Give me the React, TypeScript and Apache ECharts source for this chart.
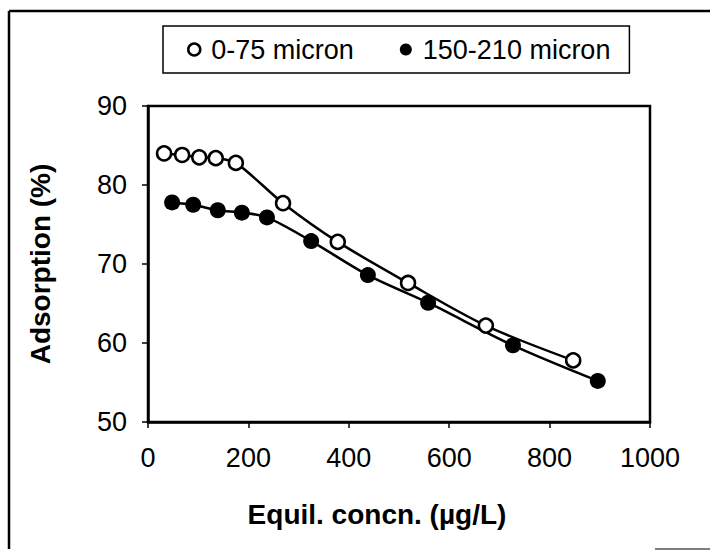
import { useEffect, useRef } from 'react';
import * as echarts from 'echarts';

// 吸附率 vs 平衡浓度 数据
const seriesNames = ['0-75 micron', '150-210 micron'];
const fineX = [32, 68, 102, 135, 175, 269, 378, 518, 673, 847];
const fineY = [84.0, 83.8, 83.5, 83.4, 82.8, 77.7, 72.8, 67.6, 62.2, 57.8];
const coarseX = [48, 90, 139, 187, 237, 325, 438, 558, 727, 896];
const coarseY = [77.8, 77.5, 76.8, 76.5, 75.9, 72.9, 68.6, 65.1, 59.7, 55.2];
const xTicks = [0, 1000, 200];
const yTicks = [50, 90, 10];

const FONT = 'Liberation Sans, Arial, sans-serif';

function App() {
  const chartRef = useRef<HTMLDivElement>(null);

  useEffect(() => {
    if (!chartRef.current) return;
    const chart = echarts.init(chartRef.current, null, { renderer: 'svg' });

    const pair = (xs: number[], ys: number[]) => xs.map((x, i) => [x, ys[i]]);

    chart.setOption({
      animation: false,
      backgroundColor: '#fff',
      textStyle: { fontFamily: FONT, color: '#000' },
      grid: {
        left: 148,
        right: 60,
        top: 106,
        bottom: 129,
        show: true,
        borderColor: '#000',
        borderWidth: 2.5,
      },
      legend: {
        left: 163,
        top: 26,
        orient: 'horizontal',
        padding: [10, 19, 10, 24],
        itemGap: 46,
        itemWidth: 12,
        itemHeight: 12,
        borderColor: '#000',
        borderWidth: 1.5,
        textStyle: { fontFamily: FONT, fontSize: 27, color: '#000', padding: [0, 0, 0, 6] },
        data: [
          { name: seriesNames[0], icon: 'circle', itemStyle: { color: '#fff', borderColor: '#000', borderWidth: 2.5 } },
          { name: seriesNames[1], icon: 'circle', itemStyle: { color: '#000', borderColor: '#000', borderWidth: 0 } },
        ],
      },
      xAxis: {
        type: 'value',
        min: xTicks[0],
        max: xTicks[1],
        interval: xTicks[2],
        name: 'Equil. concn. (\u00b5g/L)',
        nameLocation: 'middle',
        nameGap: 78,
        nameTextStyle: { fontFamily: FONT, fontSize: 28, fontWeight: 'bold', color: '#000', padding: [0, 44, 0, 0] },
        splitLine: { show: false },
        axisLine: { lineStyle: { color: '#000', width: 2.5 } },
        axisTick: { show: true, inside: false, length: 6, lineStyle: { color: '#000', width: 1.5 } },
        axisLabel: { fontFamily: FONT, fontSize: 27, color: '#000', margin: 22, formatter: (v: number) => String(v) },
      },
      yAxis: {
        type: 'value',
        min: yTicks[0],
        max: yTicks[1],
        interval: yTicks[2],
        name: 'Adsorption (%)',
        nameLocation: 'middle',
        nameGap: 94,
        nameTextStyle: { fontFamily: FONT, fontSize: 28, fontWeight: 'bold', color: '#000' },
        splitLine: { show: false },
        axisLine: { lineStyle: { color: '#000', width: 2.5 } },
        axisTick: { show: true, inside: false, length: 6, lineStyle: { color: '#000', width: 1.5 } },
        axisLabel: { fontFamily: FONT, fontSize: 27, color: '#000', margin: 21, formatter: (v: number) => String(v) },
      },
      series: [
        {
          name: seriesNames[1],
          type: 'line',
          data: pair(coarseX, coarseY),
          smooth: 0.3,
          symbol: 'circle',
          symbolSize: 16,
          lineStyle: { color: '#000', width: 2.5 },
          itemStyle: { color: '#000', borderColor: '#000', borderWidth: 0 },
        },
        {
          name: seriesNames[0],
          type: 'line',
          data: pair(fineX, fineY),
          smooth: 0.3,
          symbol: 'circle',
          symbolSize: 14,
          lineStyle: { color: '#000', width: 2.5 },
          itemStyle: { color: '#fff', borderColor: '#000', borderWidth: 2.5 },
        },
      ],
      graphic: [
        { type: 'line', shape: { x1: 9, y1: 11, x2: 710, y2: 11 }, style: { stroke: '#000', lineWidth: 2.5 } },
        { type: 'line', shape: { x1: 9, y1: 11, x2: 9, y2: 549 }, style: { stroke: '#000', lineWidth: 2.5 } },
        { type: 'line', shape: { x1: 655, y1: 549, x2: 710, y2: 549 }, style: { stroke: '#555', lineWidth: 1.5 } },
      ],
    });

    return () => {
      chart.dispose();
    };
  }, []);

  return (
    <div
      ref={chartRef}
      style={{ position: 'absolute', left: 0, top: 0, width: 710, height: 551 }}
    />
  );
}

export default App;
